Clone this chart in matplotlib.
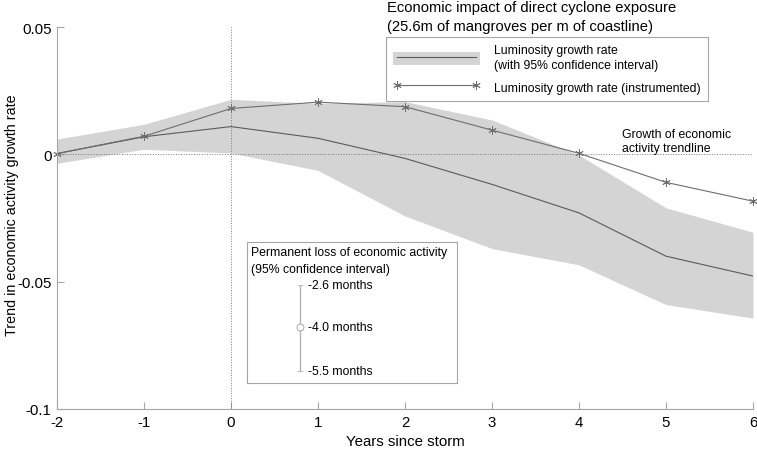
import matplotlib
matplotlib.use("Agg")
import matplotlib.pyplot as plt
from matplotlib.patches import Patch
from matplotlib.lines import Line2D
import numpy as np

plt.rcParams['font.family'] = ['Liberation Sans', 'DejaVu Sans']
plt.rcParams['axes.unicode_minus'] = False

# ==== data
years = [-2, -1, 0, 1, 2, 3, 4, 5, 6]
lum = [0.0003, 0.0069, 0.0109, 0.0063, -0.0016, -0.0118, -0.0230, -0.0400, -0.0478]
lum_hi = [0.0060, 0.0118, 0.0216, 0.0200, 0.0207, 0.0135, -0.0003, -0.0210, -0.0306]
lum_lo = [-0.0035, 0.0020, 0.0005, -0.0063, -0.0242, -0.0370, -0.0434, -0.0590, -0.0643]
lum_inst = [0.0003, 0.0071, 0.0180, 0.0205, 0.0187, 0.0095, 0.0004, -0.0110, -0.0184]

loss_mid = -4.0  # months
loss_hi = -2.6
loss_lo = -5.5

yticks = [-0.1, -0.05, 0, 0.05]
ytick_labels = ['-0.1', '-0.05', '0', '0.05']

W, H = 757, 452
spine_col = '#a6a6a6'
band_col = '#d4d4d4'
line_col = '#5a5a5a'
inst_col = '#6e6e6e'
star = (6, 2, 0)
small = 8.8

fig = plt.figure(figsize=(W / 100, H / 100), dpi=100)
ax = fig.add_axes([57 / W, 1 - 410 / H, (753 - 57) / W, (410 - 28) / H])

ax.fill_between(years, lum_lo, lum_hi, color=band_col, lw=0)
ax.plot(years, lum, color=line_col, lw=0.8)
ax.plot(years, lum_inst, color=inst_col, lw=0.8, marker=star, ms=6, mew=0.6, clip_on=False)

# reference lines
ax.axhline(0, color='#777777', lw=0.7, ls=':')
ax.axvline(0, color='#777777', lw=0.7, ls=':')

ax.set_xlim(-2, 6)
ax.set_ylim(-0.1, 0.05)
ax.set_xticks(years)
ax.set_yticks(yticks)
ax.set_yticklabels(ytick_labels)
ax.tick_params(direction='in', length=5, color=spine_col, labelsize=10.8, pad=4)
for s in ('top', 'right'):
    ax.spines[s].set_visible(False)
for s in ('left', 'bottom'):
    ax.spines[s].set_color(spine_col)
    ax.spines[s].set_linewidth(0.8)
ax.set_xlabel('Years since storm', fontsize=10.8, labelpad=4)
ax.set_ylabel('Trend in economic activity growth rate', fontsize=10.3)
ax.yaxis.set_label_coords((19 - 57) / 696, (410 - 215) / 382)

ax.text(4.5, 0.0, 'Growth of economic\nactivity trendline', fontsize=small,
        va='bottom', ha='left', linespacing=1.25)

# ==== title lines
fig.text(387 / W, 1 - 8 / H, 'Economic impact of direct cyclone exposure', fontsize=10.6, va='center')
fig.text(387 / W, 1 - 27 / H, '(25.6m of mangroves per m of coastline)', fontsize=10.6, va='center')

# ==== legend
h1 = (Patch(facecolor=band_col, edgecolor='none'), Line2D([], [], color=line_col, lw=0.8))
h2 = Line2D([], [], color=inst_col, lw=0.8, marker=star, ms=6, mew=0.6)
leg = ax.legend([h1, h2],
                ['Luminosity growth rate\n(with 95% confidence interval)',
                 'Luminosity growth rate (instrumented)'],
                loc='upper left', bbox_to_anchor=(386 / W, 1 - 38 / H),
                bbox_transform=fig.transFigure, borderaxespad=0,
                fontsize=small, numpoints=2, handlelength=7.1, handleheight=1.3,
                handletextpad=1.15, borderpad=0.6, labelspacing=0.7,
                fancybox=False, framealpha=1, edgecolor=spine_col)
leg.get_frame().set_linewidth(0.8)
for t in leg.get_texts():
    t.set_linespacing(1.35)

# ==== inset box with permanent loss
bx0, bx1, by0, by1 = 247, 457, 243, 384
iax = fig.add_axes([bx0 / W, 1 - by1 / H, (bx1 - bx0) / W, (by1 - by0) / H])
px_per_month = 29.7
iax.set_xlim(0, 1)
iax.set_ylim(loss_lo - (by1 - 372) / px_per_month, loss_hi + (286 - by0) / px_per_month)
iax.set_xticks([])
iax.set_yticks([])
for s in iax.spines.values():
    s.set_color(spine_col)
    s.set_linewidth(0.8)
xe = (300 - bx0) / (bx1 - bx0)
iax.errorbar([xe], [loss_mid], yerr=[[loss_mid - loss_lo], [loss_hi - loss_mid]],
             color='#b3b3b3', lw=1.0, capsize=2, marker='o', ms=5, mfc='white', mec='#999999', mew=0.6)
xt = (308 - bx0) / (bx1 - bx0)
for v in (loss_hi, loss_mid, loss_lo):
    iax.text(xt, v, '%.1f months' % v, fontsize=small, va='center', ha='left')
iax.text(0.02, 0.93, 'Permanent loss of economic activity', fontsize=small,
         transform=iax.transAxes, va='center')
iax.text(0.02, 0.81, '(95% confidence interval)', fontsize=small,
         transform=iax.transAxes, va='center')

fig.savefig('out.png', dpi=100)
